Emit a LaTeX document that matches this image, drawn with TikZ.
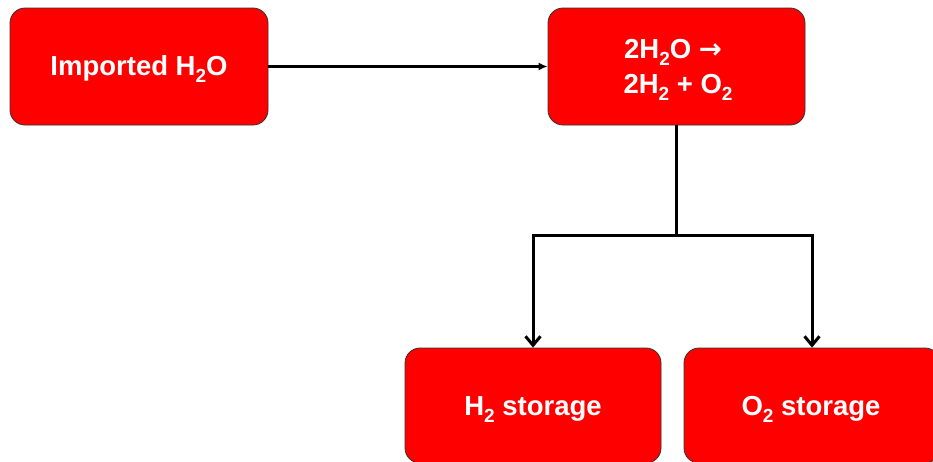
\documentclass[tikz,border=0pt]{standalone}
\usepackage{fontspec}
\setmainfont{Liberation Sans}
\newfontfamily\arrowfont{DejaVu Sans}
\usetikzlibrary{arrows.meta}
\newcommand{\sbs}[1]{\raisebox{-0.28em}{\fontsize{19}{19}\selectfont #1}}
\tikzset{
  box/.style={draw=black!80, line width=0.8pt, fill=red, rounded corners=15pt,
    inner sep=0pt},
  lbl/.style={text=white, font=\fontsize{27.5}{35}\selectfont\bfseries, anchor=base, inner sep=0pt},
  conn/.style={line width=3pt, draw=black},
  barb/.style={conn, -{Straight Barb[length=9pt,width=15pt,line width=3pt]}},
}
\begin{document}
\begin{tikzpicture}[x=1pt,y=-1pt]
\useasboundingbox (0,0) rectangle (933,461);
\clip (0,0) rectangle (933,461);
\node[box, minimum width=258pt, minimum height=117pt] (b1) at (139,66.5) {};
\node[lbl] (t1) at ([yshift=-8.5pt]b1.center) {Imported H\sbs{2}O};
\node[box, minimum width=257pt, minimum height=117pt] (b2) at (676.5,66.5) {};
\node[lbl] (t2a) at ([xshift=-3.5pt,yshift=8.5pt]b2.center) {2H\sbs{2}O {\arrowfont\bfseries →}};
\node[lbl] (t2b) at ([xshift=1.5pt,yshift=-26.5pt]b2.center) {2H\sbs{2} + O\sbs{2}};
\node[box, minimum width=256pt, minimum height=115pt] (b3) at (533,405.5) {};
\node[lbl] (t3) at ([yshift=-9.5pt]b3.center) {H\sbs{2} storage};
\node[box, minimum width=256pt, minimum height=115pt] (b4) at (812,405.5) {};
\node[lbl] (t4) at ([xshift=-1pt,yshift=-9.5pt]b4.center) {O\sbs{2} storage};
\coordinate (j) at (676.5,235);
\draw[conn, -{Latex[length=9pt,width=8pt]}] (b1.east) -- (b2.west);
\draw[conn] (b2.south) -- (j);
\draw[barb] (j) -| (b3.north);
\draw[barb] (j) -| (b4.north);
\end{tikzpicture}
\end{document}
